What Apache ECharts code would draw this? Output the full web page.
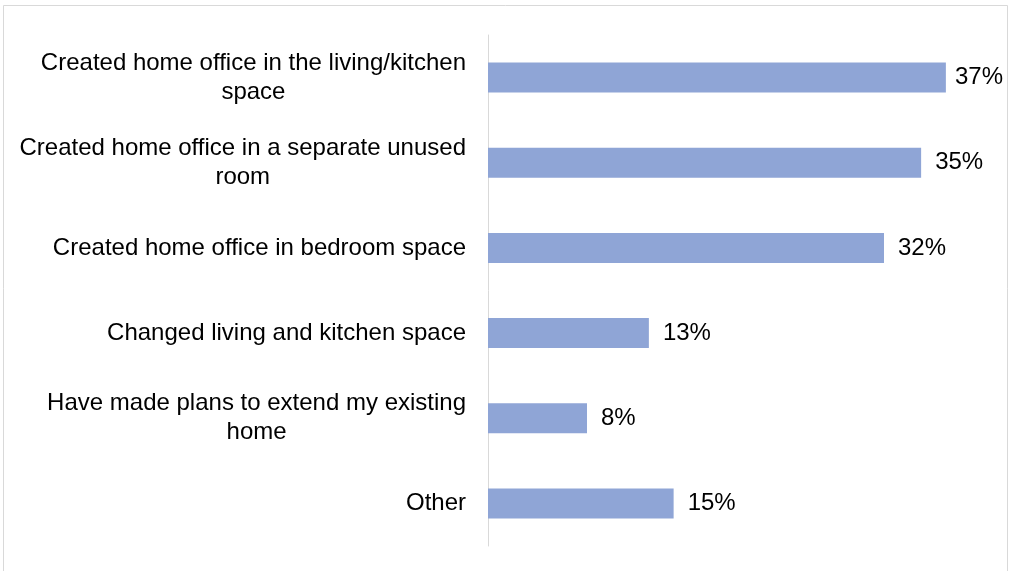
<!DOCTYPE html>
<html>
<head>
<meta charset="utf-8">
<style>
  html, body { margin: 0; padding: 0; background: #ffffff; }
  #chart { width: 1011px; height: 571px; }
</style>
<script src="https://cdn.jsdelivr.net/npm/echarts@6/dist/echarts.min.js"></script>
</head>
<body>
<div id="chart"></div>
<script>
// Home changes made for remote working (share of respondents, %)
const categories = [
  'Created home office in the living/kitchen\nspace',
  'Created home office in a separate unused\nroom',
  'Created home office in bedroom space',
  'Changed living and kitchen space',
  'Have made plans to extend my existing\nhome',
  'Other'
];
const shares = [37, 35, 32, 13, 8, 15];

const chart = echarts.init(document.getElementById('chart'), null, { renderer: 'canvas' });

const font = "'Liberation Sans', Arial, sans-serif";
const fontSize = 24;
const labelRightLimit = 1003;

chart.setOption({
  backgroundColor: '#ffffff',
  animation: false,
  graphic: [{
    type: 'rect',
    shape: { x: 3.5, y: 5.5, width: 1004, height: 600 },
    style: { fill: 'none', stroke: '#d9d9d9', lineWidth: 1 },
    silent: true,
    z: -1
  }],
  grid: { left: 488, top: 35, width: 495, height: 511, containLabel: false },
  xAxis: {
    type: 'value',
    min: 0,
    max: 40,
    show: false
  },
  yAxis: {
    type: 'category',
    inverse: true,
    data: categories,
    axisLine: { show: true, lineStyle: { color: '#d9d9d9', width: 1 } },
    axisTick: { show: false },
    splitLine: { show: false },
    axisLabel: {
      margin: 22,
      align: 'right',
      color: '#000000',
      fontFamily: font,
      fontSize: fontSize,
      lineHeight: 29,
      formatter: function (v) {
        return v.split('\n').map(function (s) { return '{c|' + s + '}'; }).join('\n');
      },
      rich: {
        c: { align: 'center', fontFamily: font, fontSize: fontSize, lineHeight: 29, color: '#000000' }
      }
    }
  },
  series: [{
    type: 'bar',
    data: shares,
    barWidth: 30,
    itemStyle: { color: '#8fa5d6' },
    label: {
      show: true,
      position: 'right',
      distance: 14,
      color: '#000000',
      fontFamily: font,
      fontSize: fontSize,
      formatter: '{c}%'
    },
    // keep value labels inside the chart area when a bar runs near the edge
    labelLayout: function (p) {
      const r = p.labelRect;
      if (r.x + r.width > labelRightLimit) {
        return {
          x: labelRightLimit - r.width,
          y: r.y + r.height / 2,
          align: 'left',
          verticalAlign: 'middle'
        };
      }
      return {};
    }
  }]
});
</script>
</body>
</html>
